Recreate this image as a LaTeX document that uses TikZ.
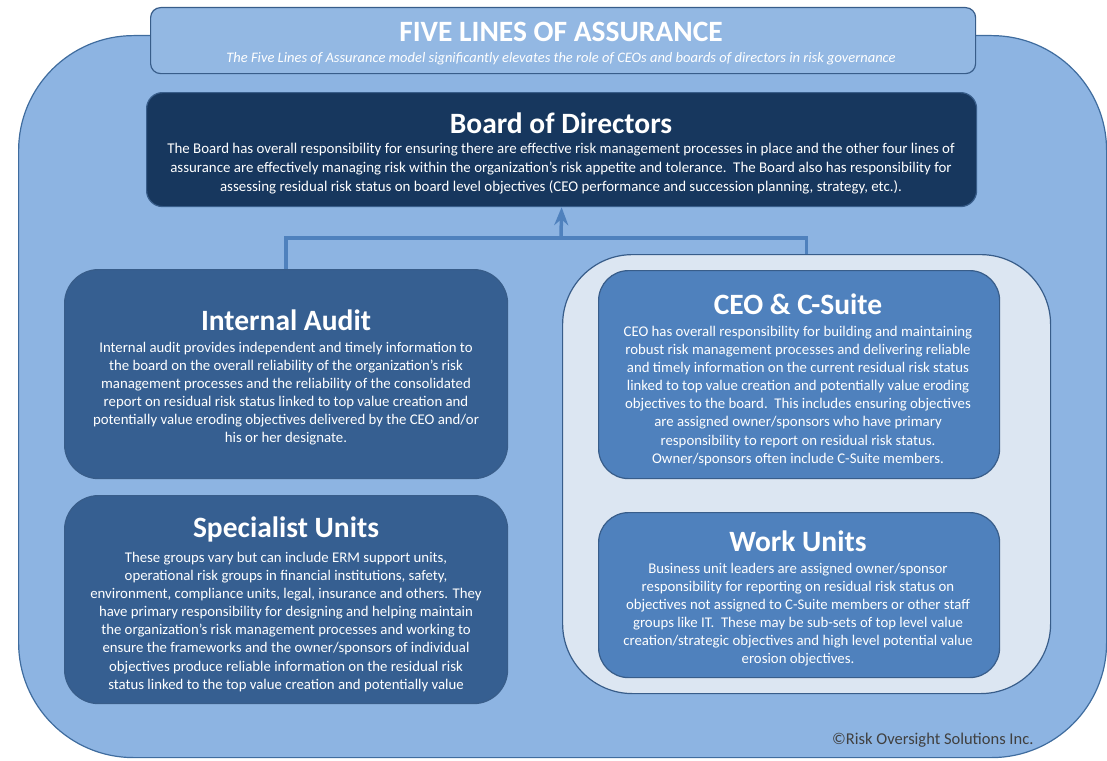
\documentclass[tikz,border=0pt]{standalone}
\usepackage{fontspec}
\setmainfont{Carlito}
\usetikzlibrary{positioning,arrows.meta}

\definecolor{frameblue}{HTML}{8DB4E2}
\definecolor{frameline}{HTML}{3F6C9E}
\definecolor{navy}{HTML}{17375E}
\definecolor{deepblue}{HTML}{365F91}
\definecolor{midblue}{HTML}{4F81BD}
\definecolor{paleblue}{HTML}{DCE6F2}
\definecolor{edgeblue}{HTML}{385D8A}

\begin{document}
\begin{tikzpicture}[x=1pt, y=-1pt,
        panel/.style={draw=edgeblue, line width=1.2pt, rounded corners=#1, inner sep=0pt},
        heading/.style={font=\fontsize{29.5}{31}\selectfont\bfseries, text=white, inner sep=0pt},
        body/.style={font=\fontsize{14.8}{18.1}\selectfont, text=white, align=center, inner sep=0pt},
        link/.style={draw=midblue, line width=3.5pt}
    ]
    \useasboundingbox (0,0) rectangle (1107,760);

    % outer frame and heading banner
    \node[panel=115pt, draw=frameline, fill=frameblue, anchor=north west,
          minimum width=1088pt, minimum height=722pt] (frame) at (18,35) {};
    \node[panel=10pt, draw=edgeblue, fill=frameblue!95!white, anchor=north west,
          minimum width=825pt, minimum height=66pt] (banner) at (150,7) {};
    \node[heading] (title) at (561,32) {FIVE LINES OF ASSURANCE};
    \node[body, font=\fontsize{14.5}{16}\selectfont\itshape] (subtitle) at (561,59)
        {The Five Lines of Assurance model significantly elevates the role of CEOs and boards of directors in risk governance};

    % Board of Directors
    \node[panel=16pt, fill=navy, anchor=north west,
          minimum width=830pt, minimum height=114pt] (board) at (146,92) {};
    \node[heading] (boardtitle) at (561,123) {Board of Directors};
    \node[body, font=\fontsize{14.9}{19}\selectfont, anchor=north] (boardtext) at (561,143)
        {The Board has overall responsibility for ensuring there are effective risk management processes in place and the other four lines of\\
         assurance are effectively managing risk within the organization's risk appetite and tolerance.\ \ The Board also has responsibility for\\
         assessing residual risk status on board level objectives (CEO performance and succession planning, strategy, etc.).};

    % Internal Audit
    \node[panel=34pt, fill=deepblue, anchor=north west,
          minimum width=443pt, minimum height=209pt] (audit) at (64,269) {};
    \node[heading] (audittitle) at (286,320) {Internal Audit};
    \node[body, anchor=north] (audittext) at (286,342)
        {Internal audit provides independent and timely information to\\
         the board on the overall reliability of the organization's risk\\
         management processes and the reliability of the consolidated\\
         report on residual risk status linked to top value creation and\\
         potentially value eroding objectives delivered by the CEO and/or\\
         his or her designate.};

    % Specialist Units
    \node[panel=34pt, fill=deepblue, anchor=north west,
          minimum width=443pt, minimum height=208pt] (specialist) at (64,495) {};
    \node[heading] (specialisttitle) at (286,529) {Specialist Units};
    \node[body, anchor=north] (specialisttext) at (286,552)
        {These groups vary but can include ERM support units,\\
         operational risk groups in financial institutions, safety,\\
         environment, compliance units, legal, insurance and others. They\\
         have primary responsibility for designing and helping maintain\\
         the organization's risk management processes and working to\\
         ensure the frameworks and the owner/sponsors of individual\\
         objectives produce reliable information on the residual risk\\
         status linked to the top value creation and potentially value};

    % management group: CEO and work units
    \node[panel=70pt, fill=paleblue, anchor=north west,
          minimum width=488pt, minimum height=439pt] (management) at (562,254) {};

    \node[panel=30pt, fill=midblue, anchor=north west,
          minimum width=401pt, minimum height=208pt] (ceo) at (598,270) {};
    \node[heading] (ceotitle) at (798,304) {CEO \& C-Suite};
    \node[body, anchor=north] (ceotext) at (798,326)
        {CEO has overall responsibility for building and maintaining\\
         robust risk management processes and delivering reliable\\
         and timely information on the current residual risk status\\
         linked to top value creation and potentially value eroding\\
         objectives to the board.\ \ This includes ensuring objectives\\
         are assigned owner/sponsors who have primary\\
         responsibility to report on residual risk status.\\
         Owner/sponsors often include C-Suite members.};

    \node[panel=30pt, fill=midblue, anchor=north west,
          minimum width=401pt, minimum height=165pt] (work) at (598,512) {};
    \node[heading] (worktitle) at (798,541) {Work Units};
    \node[body, anchor=north] (worktext) at (798,563)
        {Business unit leaders are assigned owner/sponsor\\
         responsibility for reporting on residual risk status on\\
         objectives not assigned to C-Suite members or other staff\\
         groups like IT.\ \ These may be sub-sets of top level value\\
         creation/strategic objectives and high level potential value\\
         erosion objectives.};

    % reporting lines up to the board
    \coordinate (join) at (561,238);
    \draw[link] (audit.north) |- (join) -| (management.north);
    \draw[link, -{Stealth[length=18pt, width=14pt, inset=6pt]}] (join) -- (board.south);

    \node[font=\fontsize{16.5}{18}\selectfont, text=black!75, anchor=east] (credit) at (1037,740)
        {©Risk Oversight Solutions Inc.};
\end{tikzpicture}
\end{document}
